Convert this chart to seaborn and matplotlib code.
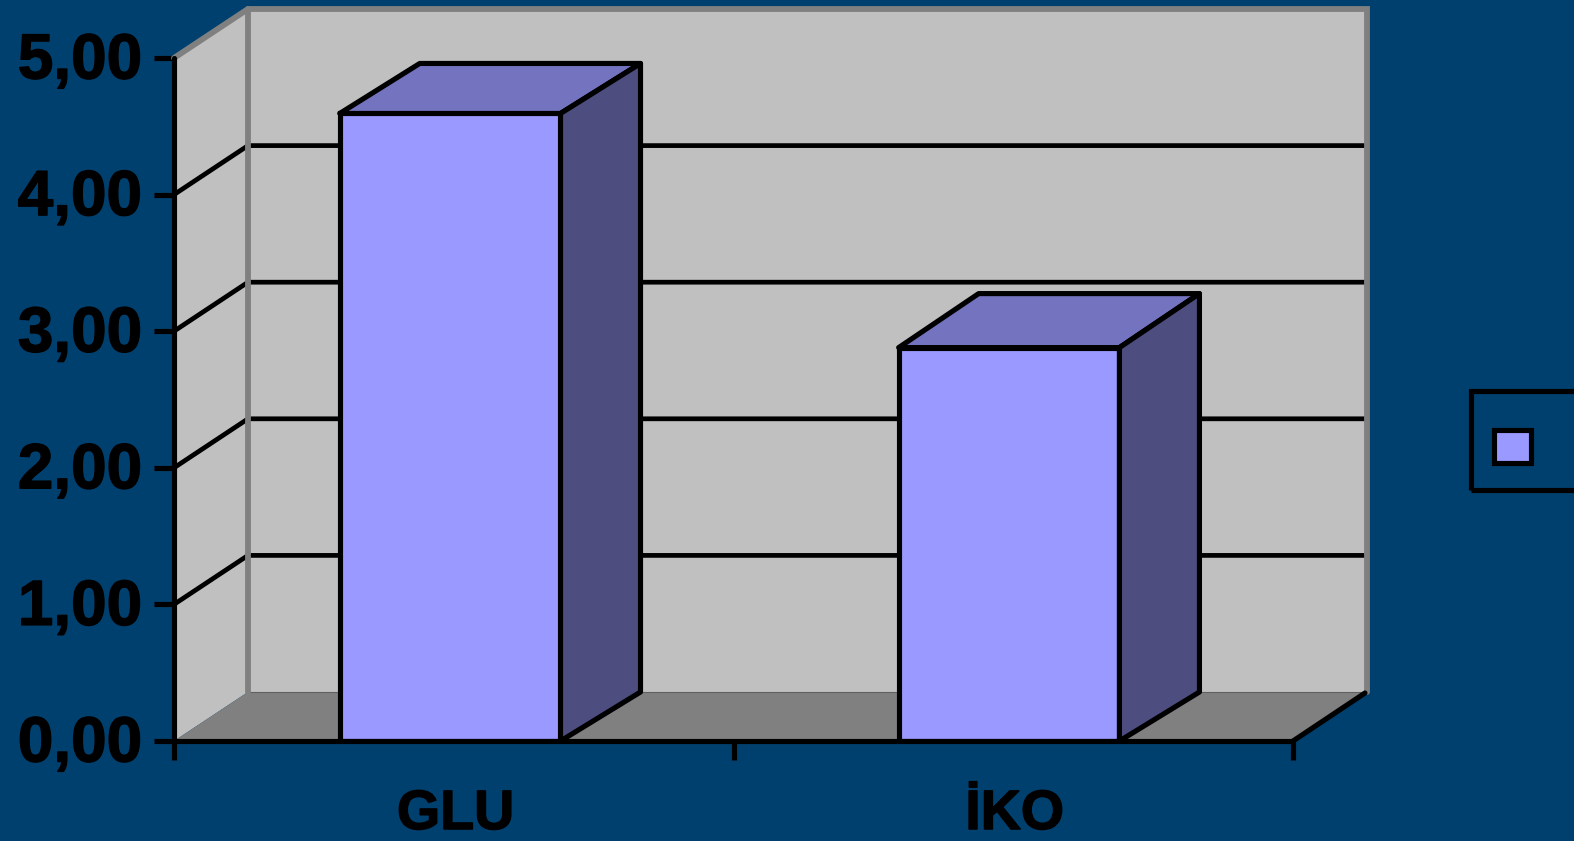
import matplotlib
matplotlib.use("Agg")
import matplotlib.pyplot as plt
import matplotlib.patheffects as pe
from matplotlib.patches import Polygon, Rectangle
from matplotlib.transforms import IdentityTransform, Affine2D
import pandas as pd
import seaborn as sns

categories = ["GLU", "İKO"]
values = [4.594, 2.88]
y_ticks = [0, 1, 2, 3, 4, 5]
y_labels = ["0,00", "1,00", "2,00", "3,00", "4,00", "5,00"]

BG = "#00406E"
WALL = "#C0C0C0"
EDGE = "#808080"
FLOOR = "#808080"
FRONT = "#9999FF"
TOP = "#7373BF"
SIDE = "#4D4D80"
W, H = 1574, 841
LW = 3.7
GRID_LW = 3.4

sns.set_theme(style="white")
plt.rcParams["font.family"] = ["Liberation Sans", "DejaVu Sans"]
fig = plt.figure(figsize=(W / 100, H / 100), dpi=100, facecolor=BG)
ax = fig.add_axes([174 / W, 1 - 741 / H, (1293 - 174) / W, (741 - 58) / H])
ax.patch.set_alpha(0)

df = pd.DataFrame({"cat": categories, "val": values})
sns.barplot(data=df, x="cat", y="val", color=FRONT, saturation=1, width=0.395,
            edgecolor="black", linewidth=LW, ax=ax, zorder=5)
x0, x1 = -0.494, 1.508
ax.set_xlim(x0, x1)
ax.set_ylim(0, 5)
DX, DY = 74, 49
BDX = [80, 80]
BDY_TOP = [50, 54]
BDY_BOT = [49, 49]
fig.canvas.draw()
T = ax.transData
ident = IdentityTransform()

p0 = T.transform((x0, 0))
p1 = T.transform((x0, 5))
p2 = T.transform((x1, 0))
p3 = T.transform((x1, 5))
D = (DX, DY)
# back wall, side wall, floor
ax.add_patch(Polygon([p0 + D, p2 + D, p3 + D, p1 + D], transform=ident, fc=WALL, ec="none",
                     zorder=1, clip_on=False))
ax.add_patch(Polygon([p0, p1, p1 + D, p0 + D], transform=ident, fc=WALL, ec="none",
                     zorder=1, clip_on=False))
ax.add_patch(Polygon([p0, p2, p2 + D, p0 + D], transform=ident, fc=FLOOR, ec="none",
                     zorder=2, clip_on=False))
for t in y_ticks[1:-1]:
    a = T.transform((x0, t))
    b = T.transform((x1, t))
    ax.plot([a[0], a[0] + DX, b[0] + DX], [a[1], a[1] + DY, b[1] + DY], transform=ident,
            color="black", lw=GRID_LW, zorder=3, clip_on=False, solid_joinstyle="miter")
# grey wall edges above the grid lines
ax.plot([p1[0], p1[0] + DX, p3[0] + DX, p2[0] + DX, ],
        [p1[1], p1[1] + DY, p3[1] + DY, p2[1] + DY], transform=ident, color=EDGE, lw=4.2,
        zorder=3.5, clip_on=False, solid_joinstyle="miter")
ax.plot([p0[0] + DX, p1[0] + DX], [p0[1] + DY, p1[1] + DY], transform=ident, color=EDGE,
        lw=4.2, zorder=3.5, clip_on=False)
ax.plot([p0[0] + DX, p2[0] + DX], [p0[1] + DY, p2[1] + DY], transform=ident, color="#606060",
        lw=0.8, zorder=3.4, clip_on=False)
ax.plot([p2[0], p2[0] + DX - 2], [p2[1], p2[1] + DY - 1], transform=ident, color="black",
        lw=LW, zorder=4, clip_on=False)

# bar side and top faces, derived from the bars seaborn drew
for bar, dx, dy_t, dy_b in zip(ax.patches[:2], BDX, BDY_TOP, BDY_BOT):
    xa, xb = bar.get_x(), bar.get_x() + bar.get_width()
    v = bar.get_height()
    pa = T.transform((xa, v))
    pb = T.transform((xb, v))
    pc = T.transform((xb, 0))
    ax.add_patch(Polygon([pa, pb, pb + (dx, dy_t), pa + (dx, dy_t)], transform=ident, fc=TOP,
                         ec="black", lw=LW, zorder=5, clip_on=False, joinstyle="round"))
    ax.add_patch(Polygon([pb, pc, pc + (dx, dy_b), pb + (dx, dy_t)], transform=ident, fc=SIDE,
                         ec="black", lw=LW, zorder=5, clip_on=False, joinstyle="round"))

ax.set_xlabel("")
ax.set_ylabel("")
for s in ["top", "right"]:
    ax.spines[s].set_visible(False)
for s in ["left", "bottom"]:
    ax.spines[s].set_color("black")
    ax.spines[s].set_linewidth(LW)
    ax.spines[s].set_zorder(6)
    ax.spines[s].set_capstyle("round")
ax.set_yticks(y_ticks, y_labels)
span = x1 - x0
ax.set_xticks([x0, x0 + span / 2, x1], ["", "", ""])
ax.tick_params(axis="y", length=14.5, width=LW, color="black", left=True, pad=8.5,
               labelsize=46, labelcolor="black")
ax.tick_params(axis="x", length=13.5, width=LW, color="black", bottom=True, direction="out")
stroke = [pe.withStroke(linewidth=1.0, foreground="black")]
for lab in ax.get_yticklabels():
    lab.set_fontweight("bold")
    lab.set_path_effects(stroke)
    lab.set_transform(lab.get_transform() + Affine2D().translate(0, 3))
for x, c in enumerate(categories):
    ax.annotate(c, xy=(x, 0), xycoords=("data", "axes fraction"), xytext=(4, -63.4),
                textcoords="offset points", ha="center", va="baseline", fontsize=40,
                fontweight="bold", color="black", annotation_clip=False,
                path_effects=stroke)

# legend key
fig.add_artist(Rectangle((1471 / W, 1 - 490 / H), 120 / W, 99 / H, transform=fig.transFigure,
                         fc="none", ec="black", lw=LW))
fig.add_artist(Rectangle((1494 / W, 1 - 463 / H), 37 / W, 33 / H, transform=fig.transFigure,
                         fc=FRONT, ec="black", lw=LW))

fig.savefig("out.png", dpi=100, facecolor=BG)
